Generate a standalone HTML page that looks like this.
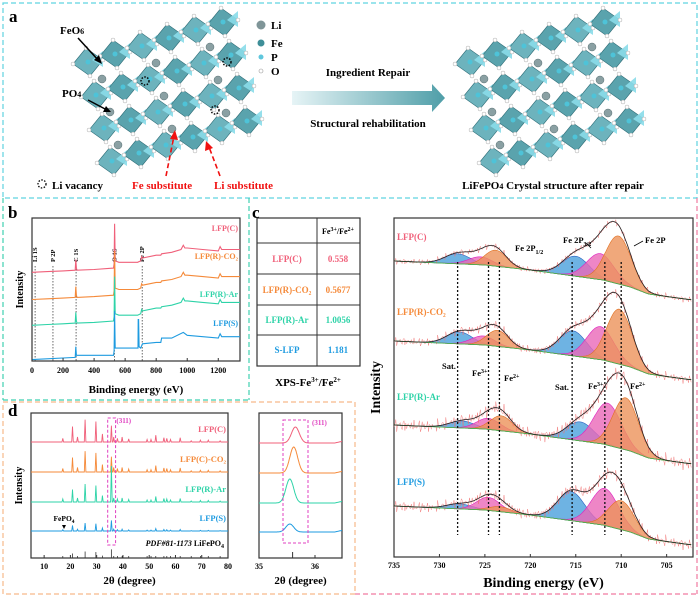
<!DOCTYPE html>
<html><head><meta charset="utf-8"><style>
html,body{margin:0;padding:0;background:#fff;}
svg{display:block;font-family:"Liberation Serif",serif;font-weight:bold;}
</style></head><body>
<svg id="fig" width="700" height="597" viewBox="0 0 700 597" xmlns="http://www.w3.org/2000/svg">
<defs>
<linearGradient id="arrowGrad" x1="0" x2="1" y1="0" y2="0"><stop offset="0" stop-color="#e6f4f6"/><stop offset="1" stop-color="#4f9ea8"/></linearGradient>
</defs>
<rect x="3" y="3" width="694" height="195" fill="none" stroke="#5fd3e0" stroke-dasharray="5,3" stroke-width="1.2"/>
<line x1="249" y1="198" x2="249" y2="400" stroke="#3fd0b0" stroke-dasharray="5,3" stroke-width="1.2"/>
<line x1="3" y1="400" x2="249" y2="400" stroke="#3fd0b0" stroke-dasharray="5,3" stroke-width="1.2"/>
<line x1="3" y1="198" x2="3" y2="400" stroke="#3fd0b0" stroke-dasharray="5,3" stroke-width="1.2"/>
<rect x="3" y="402" width="352" height="192" fill="none" stroke="#f7b98a" stroke-dasharray="5,3" stroke-width="1.2"/>
<line x1="697" y1="198" x2="697" y2="594" stroke="#f07aa0" stroke-dasharray="5,3" stroke-width="1.2"/>
<line x1="355" y1="594" x2="697" y2="594" stroke="#f07aa0" stroke-dasharray="5,3" stroke-width="1.2"/>

<text x="9" y="22" font-size="17">a</text>
<g id="crystal1"></g>
<g id="crystal2"></g>
<text x="60" y="34" font-size="11">FeO<tspan font-size="8">6</tspan></text>
<line x1="78" y1="38" x2="99" y2="61" stroke="#000" stroke-width="1.5"/>
<polygon points="102,64 94,60 99,55" fill="#000"/>
<text x="62" y="97" font-size="11">PO<tspan font-size="8">4</tspan></text>
<line x1="88" y1="100" x2="107" y2="110" stroke="#000" stroke-width="1.5"/>
<polygon points="111,112 103,112 106,106" fill="#000"/>
<g>
<circle cx="261" cy="25" r="4.5" fill="#7f9598"/><text x="271" y="29" font-size="11">Li</text>
<circle cx="261" cy="43" r="3.5" fill="#3e8e98"/><text x="271" y="47" font-size="11">Fe</text>
<circle cx="261" cy="57" r="2.5" fill="#5fc7dd"/><text x="271" y="61" font-size="11">P</text>
<circle cx="261" cy="71" r="2" fill="#fff" stroke="#999" stroke-width="0.6"/><text x="271" y="75" font-size="11">O</text>
</g>
<text x="368" y="76" font-size="11" text-anchor="middle">Ingredient Repair</text>
<polygon points="292,91 432,91 432,84 445,98 432,112 432,105 292,105" fill="url(#arrowGrad)"/>
<text x="368" y="127" font-size="11" text-anchor="middle">Structural rehabilitation</text>
<circle cx="42" cy="184" r="4" fill="none" stroke="#000" stroke-dasharray="1.5,1.5" stroke-width="1.3"/>
<text x="52" y="189" font-size="11">Li vacancy</text>
<text x="132" y="189" font-size="11" fill="#f01010">Fe substitute</text>
<text x="214" y="189" font-size="11" fill="#f01010">Li substitute</text>
<line x1="166" y1="176" x2="174" y2="136" stroke="#f01010" stroke-width="1.6" stroke-dasharray="5,3"/>
<polygon points="175,130 170,139 178,140" fill="#f01010"/>
<line x1="220" y1="176" x2="209" y2="147" stroke="#f01010" stroke-width="1.6" stroke-dasharray="5,3"/>
<polygon points="206,141 205,151 213,148" fill="#f01010"/>
<text x="553" y="189" font-size="11" text-anchor="middle">LiFePO<tspan font-size="8">4</tspan> Crystal structure after repair</text>

<text x="8" y="218" font-size="17">b</text>
<g id="panelB"></g>

<text x="252" y="218" font-size="17">c</text>
<g font-size="9">
<rect x="257" y="218" width="103" height="148" fill="none" stroke="#333" stroke-width="1.2"/>
<line x1="317" y1="218" x2="317" y2="366" stroke="#333" stroke-width="1"/>
<line x1="257" y1="243" x2="360" y2="243" stroke="#333"/>
<line x1="257" y1="274" x2="360" y2="274" stroke="#333"/>
<line x1="257" y1="305" x2="360" y2="305" stroke="#333"/>
<line x1="257" y1="335" x2="360" y2="335" stroke="#333"/>
<text x="338" y="234" text-anchor="middle" font-size="8">Fe<tspan font-size="6" dy="-3">3+</tspan><tspan dy="3">/Fe</tspan><tspan font-size="6" dy="-3">2+</tspan></text>
<text x="287" y="262" text-anchor="middle" fill="#f0607a">LFP(C)</text><text x="338" y="262" text-anchor="middle" fill="#f0607a">0.558</text>
<text x="287" y="293" text-anchor="middle" fill="#f58a3a">LFP(R)-CO₂</text><text x="338" y="293" text-anchor="middle" fill="#f58a3a">0.5677</text>
<text x="287" y="323" text-anchor="middle" fill="#2ed3a8">LFP(R)-Ar</text><text x="338" y="323" text-anchor="middle" fill="#2ed3a8">1.0056</text>
<text x="287" y="353" text-anchor="middle" fill="#1e9be0">S-LFP</text><text x="338" y="353" text-anchor="middle" fill="#1e9be0">1.181</text>
</g>
<text x="308" y="386" text-anchor="middle" font-size="11">XPS-Fe<tspan font-size="7" dy="-4">3+</tspan><tspan dy="4">/Fe</tspan><tspan font-size="7" dy="-4">2+</tspan></text>

<g id="panelXPS"></g>

<text x="8" y="416" font-size="17">d</text>
<g id="panelD"></g>
<g id="panelD2"></g>
</svg>
<script>
// ---------- data ----------
const surveyShapeE = [0,100,200,278,282,286,290,400,525,529,532,536,560,680,700,706,712,800,830,835,900,960,975,985,1000,1100,1200,1212,1222,1260,1340];
const surveyShapeI = [0,0.5,1,1.5,9,3,1.5,2,3,6,34,8,7,7,8,11,10,12,12,13,14,16,19,17,17,16,15,18,16,16,16];
const surveyNames = ["LFP(C)","LFP(R)-CO2","LFP(R)-Ar","LFP(S)"];
const surveyOffsets = [62,43,25,1];
const surveyColors = ["#f0607a","#f58a3a","#2ed3a8","#1e9be0"];
const surveyTicks = [0,200,400,600,800,1000,1200];
const surveyLines = [{e:20,l:"Li 1S"},{e:135,l:"P 2P"},{e:284,l:"C 1S"},{e:531,l:"O 1S"},{e:710,l:"Fe 2P"}];

const xpsNames = ["LFP(C)","LFP(R)-CO2","LFP(R)-Ar","LFP(S)"];
const xpsOffsets = [261,341,425,506];
const xpsCenters = [[728,725.5,723.8,715,712.3,710.3],[727.8,725.2,723.6,715.3,712.3,710.2],[727.5,724.6,723.2,714.5,711.5,709.5],[727.8,724.6,723.3,715.5,711.8,710]];
const xpsHeights = [[10,8,16,20,26,48],[12,9,16,25,33,55],[7,11,15,19,42,52],[5,13,5,29,37,29]];
const xpsWidths = [1.4,1.3,1.2,1.5,1.5,1.4];
const xpsPeakKinds = ["sat","fe3","fe2","sat","fe3","fe2"];
const xpsBaseE = [735,725,720,716,712,709,707,703,702];
const xpsBaseI = [0,4,9,14,19,26,33,38,39];
const xpsTicks = [735,730,725,720,715,710,705];
const xpsGuideE = [728,724.6,723.4,715.4,711.8,710];
const xpsNoise = [1.6,2.2,3.2,2.8];

const xrdPos = [17.1,20.8,22.7,25.6,29.7,32.2,35.6,36.5,37.9,39.7,42.2,49.2,50.7,52.5,55.6,56.7,58.1,61.8,66,69.5,72.5,77];
const xrdRel = [6,25,8,36,33,13,48,8,6,8,5,4,4,11,7,6,4,7,2,3,3,2];
const xrdNames = ["LFP(C)","LFP(C)-CO2","LFP(R)-Ar","LFP(S)"];
const xrdBase = [442,472,502,531];
const xrdScale = [0.62,0.58,0.5,0.22];
const xrdTicks = [10,20,30,40,50,60,70,80];
const xrdZoomCenter = [35.65,35.62,35.55,35.55];
const xrdZoomHeight = [16,26,24,8];
const xrdZoomTicks = [35,36];

const NS="http://www.w3.org/2000/svg";
function mk(tag,attrs,parent){const e=document.createElementNS(NS,tag);for(const k in attrs)e.setAttribute(k,attrs[k]);parent.appendChild(e);return e;}
function interp(xs,ys,x){if(xs[0]>xs[xs.length-1]){for(let i=0;i<xs.length-1;i++){if(x<=xs[i]&&x>=xs[i+1]){const t=(x-xs[i])/(xs[i+1]-xs[i]);return ys[i]+t*(ys[i+1]-ys[i]);}}return x>xs[0]?ys[0]:ys[ys.length-1];}
 for(let i=0;i<xs.length-1;i++){if(x>=xs[i]&&x<=xs[i+1]){const t=(x-xs[i])/(xs[i+1]-xs[i]);return ys[i]+t*(ys[i+1]-ys[i]);}}return x<xs[0]?ys[0]:ys[ys.length-1];}
function wiggle(e){return 0.9*Math.sin(e*41.3)+0.7*Math.sin(e*97.1+1.3)+0.6*Math.sin(e*173.7+0.4)+0.5*Math.sin(e*263.3+2.1);}

function crystal(g,ox,oy){
 for(let k=0;k<4;k++){for(let j=0;j<6;j++){
  const cx=ox+k*8+j*27, cy=oy+k*33-j*8;
  const d=mk('polygon',{points:`${cx-15},${cy+2} ${cx-2},${cy-14} ${cx+15},${cy-2} ${cx+2},${cy+14}`,fill:(j%2? "#5aa3ad":"#6db3bd"),stroke:"#2f6d77","stroke-width":0.6},g);
  
  
  const t=mk('polygon',{points:`${cx+4},${cy-2} ${cx+15},${cy-11} ${cx+15},${cy+5}`,fill:"#8adbe9",opacity:0.9},g);
  
  
  mk('circle',{cx:cx,cy:cy,r:2.5,fill:"#4ec3d8"},g);
  for(const [dx,dy] of [[-15,2],[-2,-14],[15,-2],[2,14]]) mk('circle',{cx:cx+dx,cy:cy+dy,r:2,fill:"#fff",stroke:"#aaa","stroke-width":0.5},g);
  if(k<3 && j%2==0){const a=mk('circle',{cx:cx+14,cy:cy+17,r:4,fill:"#8aa0a3",stroke:"#5c7275","stroke-width":0.5},g);
   
   }
 }}
}
const c1=document.getElementById('crystal1'), c2=document.getElementById('crystal2');
crystal(c1,88,62); crystal(c2,470,62);
for(const [x,y] of [[145,81],[227,62],[215,110]]){const v=mk('circle',{cx:x,cy:y,r:4,fill:"none",stroke:"#000","stroke-dasharray":"1.5,1.5","stroke-width":1.4},c1);
 
 }

(function(){
 const g=document.getElementById('panelB');
 const L=32,R=240,T=218,B=361;
 const x=e=>L+(e/1340)*(R-L);
 const y=v=>B-v*(B-T)/100;
 mk('rect',{x:L,y:T,width:R-L,height:B-T,fill:"none",stroke:"#333","stroke-width":1.2},g);
 surveyLines.forEach(s=>{
  const l=mk('line',{x1:x(s.e),y1:T+48,x2:x(s.e),y2:B,stroke:"#444","stroke-dasharray":"1.5,1.5","stroke-width":0.8},g);
  
  
  const t=mk('text',{x:0,y:0,"font-size":6.5,transform:`translate(${x(s.e)+2},${T+44}) rotate(-90)`},g);
  t.textContent=s.l;
  
  
 });
 surveyNames.forEach((n,i)=>{
  let d="";
  surveyShapeE.forEach((e,k)=>{let v=surveyOffsets[i]+surveyShapeI[k];
   v=Math.min(v,100); d+=(k?"L":"M")+x(e).toFixed(1)+","+y(v).toFixed(1);});
  if(i===3){d="";const E=[0,278,282,286,525,529,532,536,683,684,687,690,700,712,800,830,835,900,975,1000,1200,1212,1222,1340];
   const I=[0,1.5,9,3,3,6,34,8,8,28,28,9,8,11,12,12,15,15,19,17,15,18,16,16];
   E.forEach((e,k)=>{d+=(k?"L":"M")+x(e).toFixed(1)+","+y(surveyOffsets[i]+I[k]).toFixed(1);});}
  const p=mk('path',{d:d,fill:"none",stroke:surveyColors[i],"stroke-width":1.1},g);
  
  
 });
 const labY=[231,259,297,326];
 surveyNames.forEach((n,i)=>{const t=mk('text',{x:R-2,y:labY[i],"font-size":8,"text-anchor":"end",fill:surveyColors[i]},g);
  t.textContent=n.replace("CO2","CO₂");
  
  });
 surveyTicks.forEach(v=>{mk('line',{x1:x(v),y1:B,x2:x(v),y2:B-3,stroke:"#333"},g);
  const t=mk('text',{x:x(v),y:B+12,"font-size":8,"text-anchor":"middle"},g);t.textContent=v;
  
  });
 const xt=mk('text',{x:(L+R)/2,y:393,"font-size":11,"text-anchor":"middle"},g);xt.textContent="Binding energy (eV)";
 
 
 const yt=mk('text',{x:0,y:0,"font-size":10,"text-anchor":"middle",transform:`translate(23,${(T+B)/2}) rotate(-90)`},g);yt.textContent="Intensity";
 
 
})();

(function(){
 const g=document.getElementById('panelXPS');
 const L=394,R=693,T=218,B=557;
 const x=e=>L+(735-e)*(R-L)/(735-702.1);
 const kindCol={sat:"#4aa0dc",fe3:"#ea68b8",fe2:"#ec925a"};
 const edge={sat:"#2a60c0",fe3:"#e020c0",fe2:"#e07020"};
 mk('rect',{x:L,y:T,width:R-L,height:B-T,fill:"none",stroke:"#333","stroke-width":1.2},g);
 const Es=[];for(let e=735;e>=702.2;e-=0.1)Es.push(+e.toFixed(2));
 xpsNames.forEach((n,i)=>{
  const off=xpsOffsets[i];
  const base=e=>interp(xpsBaseE,xpsBaseI,e);
  const gauss=(k,e)=>xpsHeights[i][k]*Math.exp(-((e-xpsCenters[i][k])**2)/(2*xpsWidths[k]**2));
  xpsCenters[i].forEach((c,k)=>{
   let d="",back="";
   const pts=Es.filter(e=>Math.abs(e-c)<4*xpsWidths[k]);
   pts.forEach((e,m)=>{d+=(m?"L":"M")+x(e).toFixed(1)+","+(off+base(e)-gauss(k,e)).toFixed(1);});
   for(let m=pts.length-1;m>=0;m--)back+="L"+x(pts[m]).toFixed(1)+","+(off+base(pts[m])).toFixed(1);
   const p=mk('path',{d:d+back+"Z",fill:kindCol[xpsPeakKinds[k]],"fill-opacity":0.8,stroke:edge[xpsPeakKinds[k]],"stroke-width":0.6},g);
   
   
  });
  let raw="",env="",bl="";
  Es.forEach((e,m)=>{let s=0;for(let k=0;k<6;k++)s+=gauss(k,e);
   const yb=off+base(e), ye=yb-s;
   env+=(m?"L":"M")+x(e).toFixed(1)+","+ye.toFixed(1);
   bl+=(m?"L":"M")+x(e).toFixed(1)+","+yb.toFixed(1);
   raw+=(m?"L":"M")+x(e).toFixed(1)+","+(ye+wiggle(e)*xpsNoise[i]).toFixed(1);});
  const r=mk('path',{d:raw,fill:"none",stroke:"#f07070","stroke-width":0.5,opacity:0.85},g);
  
  
  const b=mk('path',{d:bl,fill:"none",stroke:"#4caf50","stroke-width":0.9},g);
  
  
  const en=mk('path',{d:env,fill:"none",stroke:"#222","stroke-width":0.8},g);
  
  
 });
 xpsGuideE.forEach(e=>{const l=mk('line',{x1:x(e),y1:262,x2:x(e),y2:535,stroke:"#111","stroke-dasharray":"2,2","stroke-width":1.3},g);
  
  });
 const labY=[240,315,400,485];const cols=["#f0607a","#f58a3a","#2ed3a8","#1e9be0"];
 xpsNames.forEach((n,i)=>{const t=mk('text',{x:L+3,y:labY[i],"font-size":9,fill:cols[i]},g);t.textContent=n.replace("CO2","CO₂");
  
  });
 const ann=[["Fe 2P",645,243],["Fe 2P",563,243],["Fe 2P",515,251],["Sat.",442,369],["Fe",472,376],["Fe",504,381],["Sat.",555,390],["Fe",588,389],["Fe",630,389]];
 const sub=["","3/2","1/2","","3+","2+","","3+","2+"];
 ann.forEach((a,k)=>{const t=mk('text',{x:a[1],y:a[2],"font-size":8.5},g);
  t.textContent=a[0];
  if(sub[k]){const ts=document.createElementNS(NS,'tspan');ts.setAttribute('font-size',6);ts.setAttribute('dy',sub[k].includes('/')?3:-3);ts.textContent=sub[k];t.appendChild(ts);}
  
  });
 mk('line',{x1:643,y1:241,x2:634,y2:246,stroke:"#000","stroke-width":0.8},g);
 mk('line',{x1:591,y1:248,x2:586,y2:243,stroke:"#000","stroke-width":0.8},g);
 xpsTicks.forEach(v=>{mk('line',{x1:x(v),y1:B,x2:x(v),y2:B-3,stroke:"#333"},g);
  const t=mk('text',{x:x(v),y:B+11,"font-size":8,"text-anchor":"middle"},g);t.textContent=v;
  
  });
 const xt=mk('text',{x:(L+R)/2,y:587,"font-size":14,"text-anchor":"middle"},g);xt.textContent="Binding energy (eV)";
 
 
 const yt=mk('text',{x:0,y:0,"font-size":14,"text-anchor":"middle",transform:`translate(380,${(T+B)/2}) rotate(-90)`},g);yt.textContent="Intensity";
 
 
})();

(function(){
 const g=document.getElementById('panelD');
 const L=31,R=228,T=413,B=558;
 const x=t=>L+(t-5)*(R-L)/75;
 const cols=["#f0607a","#f58a3a","#2ed3a8","#1e9be0"];
 mk('rect',{x:L,y:T,width:R-L,height:B-T,fill:"none",stroke:"#333","stroke-width":1.2},g);
 xrdNames.forEach((n,i)=>{
  let d="M"+L+","+xrdBase[i];
  xrdPos.forEach((p,k)=>{const h=xrdRel[k]*xrdScale[i]*(i===2&&k===6?1.5:1)*(i<2&&k===6?0.55:1);
   d+="L"+x(p-0.3).toFixed(1)+","+xrdBase[i]+"L"+x(p).toFixed(1)+","+(xrdBase[i]-h).toFixed(1)+"L"+x(p+0.3).toFixed(1)+","+xrdBase[i];});
  d+="L"+R+","+xrdBase[i];
  const p=mk('path',{d:d,fill:"none",stroke:cols[i],"stroke-width":0.9},g);
  
  
  const t=mk('text',{x:R-2,y:xrdBase[i]-10,"font-size":8.5,"text-anchor":"end",fill:cols[i]},g);
  t.textContent=n.replace("CO2","CO₂");
  
  
 });
 xrdPos.forEach((p,k)=>{mk('line',{x1:x(p),y1:B,x2:x(p),y2:B-Math.max(2,xrdRel[k]*0.18),stroke:"#333","stroke-width":0.8},g);});
 const r=mk('text',{x:R-4,y:B-12,"font-size":8,"text-anchor":"end"},g);r.innerHTML='<tspan font-style="italic">PDF#81-1173</tspan> LiFePO<tspan font-size="6" dy="2">4</tspan>';
 
 
 const fe=mk('text',{x:64,y:521,"font-size":7.5,"text-anchor":"middle"},g);fe.innerHTML='FePO<tspan font-size="5.5" dy="2">4</tspan>';
 
 
 mk('polygon',{points:"62,525 66,525 64,529",fill:"#000"},g);
 const box=mk('rect',{x:x(34.2),y:418,width:x(37.2)-x(34.2),height:127,fill:"none",stroke:"#e040c0","stroke-dasharray":"3,2","stroke-width":1},g);
 
 
 const bl=mk('text',{x:x(37.5),y:423,"font-size":7,fill:"#e040c0"},g);bl.textContent="(311)";
 xrdTicks.forEach(v=>{mk('line',{x1:x(v),y1:B,x2:x(v),y2:B-3,stroke:"#333"},g);
  const t=mk('text',{x:x(v),y:B+11,"font-size":8,"text-anchor":"middle"},g);t.textContent=v;
  
  });
 const xt=mk('text',{x:(L+R)/2,y:584,"font-size":11,"text-anchor":"middle"},g);xt.textContent="2θ (degree)";
 
 
 const yt=mk('text',{x:0,y:0,"font-size":10,"text-anchor":"middle",transform:`translate(22,${(T+B)/2}) rotate(-90)`},g);yt.textContent="Intensity";
 
 

 const g2=document.getElementById('panelD2');
 const L2=259,R2=342;
 const x2=t=>L2+(t-35)*56;
 mk('rect',{x:L2,y:T,width:R2-L2,height:B-T,fill:"none",stroke:"#333","stroke-width":1.2},g2);
 xrdNames.forEach((n,i)=>{let d="";
  for(let t=35;t<=36.48;t+=0.01){const v=xrdZoomHeight[i]*Math.exp(-((t-xrdZoomCenter[i])**2)/(2*0.07**2))+(t>36.35?(t-36.35)*12:0);
   d+=(d?"L":"M")+x2(t).toFixed(1)+","+(xrdBase[i]+1-v).toFixed(1);}
  const p=mk('path',{d:d,fill:"none",stroke:cols[i],"stroke-width":1},g2);
  
  });
 const b2=mk('rect',{x:283,y:420,width:25,height:123,fill:"none",stroke:"#e040c0","stroke-dasharray":"3,2","stroke-width":1},g2);
 
 
 const bl2=mk('text',{x:312,y:425,"font-size":7,fill:"#e040c0"},g2);bl2.textContent="(311)";
 mk('line',{x1:x2(35.6),y1:B,x2:x2(35.6),y2:B-6,stroke:"#333"},g2);
 xrdZoomTicks.forEach(v=>{mk('line',{x1:x2(v),y1:B,x2:x2(v),y2:B-3,stroke:"#333"},g2);
  const t=mk('text',{x:x2(v),y:B+11,"font-size":8,"text-anchor":"middle"},g2);t.textContent=v;
  
  });
 const xt2=mk('text',{x:(L2+R2)/2,y:584,"font-size":11,"text-anchor":"middle"},g2);xt2.textContent="2θ (degree)";
 
 
})();
</script>
</body></html>
